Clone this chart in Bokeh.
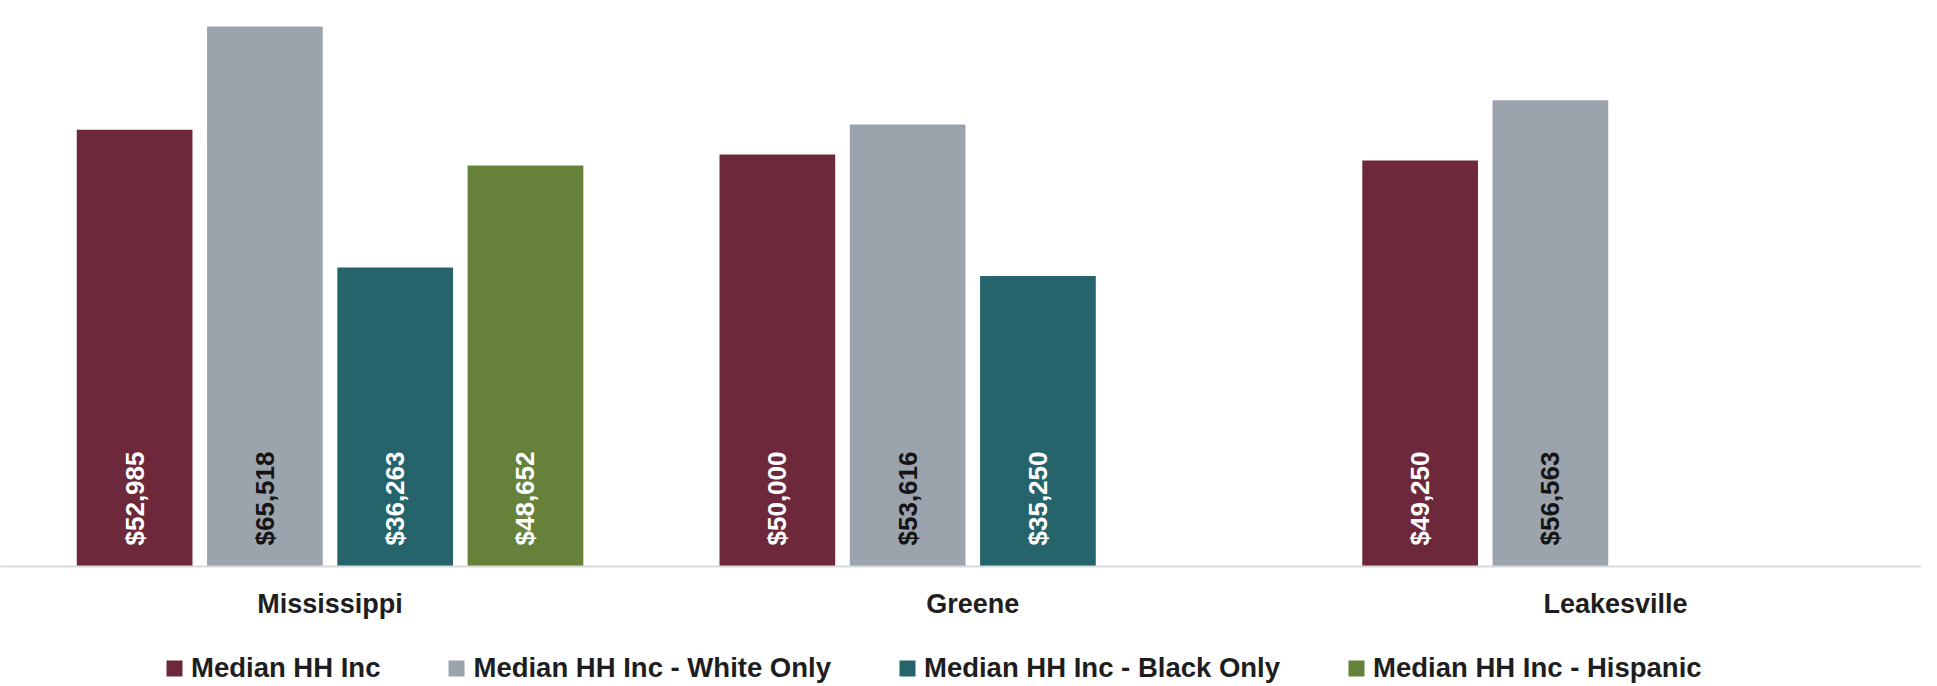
import math
from bokeh.plotting import figure
from bokeh.layouts import column
from bokeh.models import ColumnDataSource, Range1d, FixedTicker, Legend, LegendItem
from bokeh.core.properties import value
from bokeh.embed import file_html
from bokeh.resources import INLINE

# ---- data ----
categories = ["Mississippi", "Greene", "Leakesville"]
series_names = ["Median HH Inc", "Median HH Inc - White Only",
                "Median HH Inc - Black Only", "Median HH Inc - Hispanic"]
median_hh = [52985, 50000, 49250]
white_only = [65518, 53616, 56563]
black_only = [36263, 35250, None]
hispanic = [48652, None, None]
series_values = [median_hh, white_only, black_only, hispanic]
colors = ["#6e283c", "#9ba3ac", "#26646c", "#66823a"]
label_colors = ["white", "#141414", "white", "white"]

FONT = value("Liberation Sans")
slot = 0.2027
bar_w = 0.180

p = figure(width=1921, height=624, output_backend="svg", toolbar_location=None,
           x_range=Range1d(-0.5127, 2.476), y_range=Range1d(0, 68670),
           min_border_left=0, min_border_right=0, min_border_top=0,
           min_border_bottom=58)

p.background_fill_color = "white"
p.border_fill_color = "white"
p.outline_line_color = None
p.grid.visible = False
p.yaxis.visible = False

xa = p.xaxis[0]
xa.ticker = FixedTicker(ticks=list(range(len(categories))))
xa.major_label_overrides = {i: c for i, c in enumerate(categories)}
xa.major_tick_line_color = None
xa.minor_tick_line_color = None
xa.axis_line_color = "#d9d9d9"
xa.axis_line_width = 2
xa.major_label_standoff = 16
xa.major_label_text_font = "Liberation Sans"
xa.major_label_text_font_style = "bold"
xa.major_label_text_font_size = "27px"
xa.major_label_text_color = "#1e1e1e"

# legend strip (separate small figure below the chart)
lf = figure(width=1921, height=62, output_backend="svg", toolbar_location=None,
            x_range=Range1d(0, 1), y_range=Range1d(0, 1),
            x_axis_type=None, y_axis_type=None, min_border=0)
lf.background_fill_color = "white"
lf.border_fill_color = "white"
lf.outline_line_color = None
lf.grid.visible = False

items = []
for j, (name, vals) in enumerate(zip(series_names, series_values)):
    xs, ys, labels = [], [], []
    for i, v in enumerate(vals):
        if v is None:
            continue
        xs.append(i + (j - 1.5) * slot)
        ys.append(v)
        labels.append("${:,}".format(v))
    src = ColumnDataSource(dict(x=xs, top=ys, label=labels))
    p.vbar(x="x", top="top", bottom=0, width=bar_w, source=src,
           fill_color=colors[j], line_color=None)
    p.text(x="x", y=0, text="label", source=src, angle=math.pi / 2,
           text_align="left", text_baseline="middle", y_offset=-21,
           text_color=label_colors[j], text_font=FONT,
           text_font_style="bold", text_font_size="26px")
    # zero-height swatch renderer, only used to draw the legend key
    swatch = lf.vbar(x=[0.5], top=[0], bottom=0, width=0.1,
                     fill_color=colors[j], line_color=None)
    items.append(LegendItem(label=name, renderers=[swatch]))

legend = Legend(items=items, orientation="horizontal", location=(164, 2),
                glyph_width=20, glyph_height=20, label_standoff=7, spacing=66,
                padding=0, margin=0, border_line_color=None,
                background_fill_alpha=0, label_text_font="Liberation Sans",
                label_text_font_style="bold",
                label_text_font_size="27.5px", label_text_color="#1e1e1e",
                label_height=20)
lf.add_layout(legend, "center")

layout = column(p, lf, spacing=0)
open("out.html", "w").write(file_html(layout, INLINE))
